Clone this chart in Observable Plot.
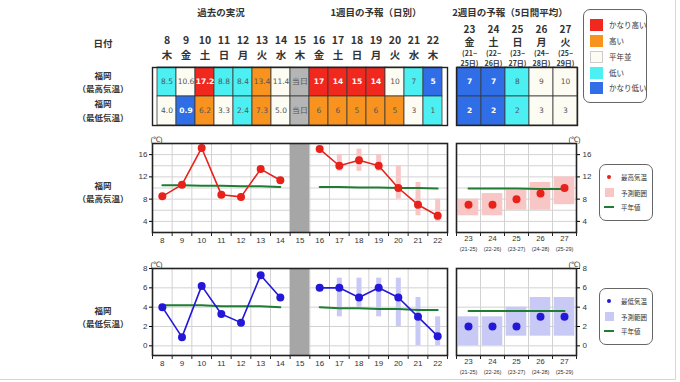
<!DOCTYPE html>
<html><head><meta charset="utf-8">
<script src="https://cdn.jsdelivr.net/npm/d3@7"></script>
<script src="https://cdn.jsdelivr.net/npm/@observablehq/plot@0.6"></script>
<style>
body{margin:0;background:#fff;font-family:'Noto Sans CJK JP',sans-serif;}
#root{position:relative;width:680px;height:382px;overflow:hidden;background:#fff;}
</style></head>
<body><div id="root"></div>
<script>
// ---------- data ----------
const days1 = [8,9,10,11,12,13,14,15,16,17,18,19,20,21,22];
const weekdays1 = ["木","金","土","日","月","火","水","木","金","土","日","月","火","水","木"];
const days2 = [23,24,25,26,27];
const weekdays2 = ["金","土","日","月","火"];
const wk2Start = [21,22,23,24,25];
const wk2End = [25,26,27,28,29];

const classLabels = ["かなり高い","高い","平年並","低い","かなり低い"];
const todayLabel = "当日";

const maxTable1 = ["8.5","10.6","17.2","8.8","8.4","13.4","11.4","当日","17","14","15","14","10","7","5"];
const maxClass1 = ["低い","平年並","かなり高い","低い","低い","高い","平年並","当日","かなり高い","かなり高い","かなり高い","かなり高い","平年並","低い","かなり低い"];
const minTable1 = ["4.0","0.9","6.2","3.3","2.4","7.3","5.0","当日","6","6","5","6","5","3","1"];
const minClass1 = ["平年並","かなり低い","高い","平年並","低い","高い","平年並","当日","高い","高い","高い","高い","高い","平年並","低い"];
const maxTable2 = ["7","7","8","9","10"];
const maxClass2 = ["かなり低い","かなり低い","低い","平年並","平年並"];
const minTable2 = ["2","2","2","3","3"];
const minClass2 = ["かなり低い","かなり低い","低い","平年並","平年並"];

const pastDays = [8,9,10,11,12,13,14];
const fcDays = [16,17,18,19,20,21,22];

const maxObs = [8.5,10.6,17.2,8.8,8.4,13.4,11.4];
const maxNormPast = [10.5,10.5,10.4,10.4,10.3,10.3,10.2];
const maxFc = [17,14,15,14,10,7,5];
const maxFcLo = [null,13,13,13,8,5,4];
const maxFcHi = [null,16,17,16,14,11,8];
const maxNormFc = [10.2,10.2,10.1,10.1,10.0,10.0,9.9];
const maxWk2 = [7,7,8,9,10];
const maxWk2Lo = [5,5,6,6,7];
const maxWk2Hi = [8,9,9.6,11,12];
const maxNormWk2 = [9.9,9.9,9.9,9.8,9.8];

const minObs = [4.0,0.9,6.2,3.3,2.4,7.3,5.0];
const minNormPast = [4.2,4.2,4.2,4.1,4.1,4.1,4.0];
const minFc = [6,6,5,6,5,3,1];
const minFcLo = [null,3,4,3,2,0,0];
const minFcHi = [null,7,7,7,7,5,3];
const minNormFc = [4.0,3.9,3.9,3.8,3.8,3.7,3.7];
const minWk2 = [2,2,2,3,3];
const minWk2Lo = [0,0,1,1,1];
const minWk2Hi = [3,3,4,5,5];
const minNormWk2 = [3.6,3.6,3.6,3.6,3.6];

const maxYTicks = [4,8,12,16];
const maxYGrid = [4,6,8,10,12,14,16];
const minYTicks = [0,2,4,6,8];
const minYGrid = [0,2,4,6];

// ---------- styling ----------
const classColors = ["#f0281e","#f7931e","#fdfcf2","#4cf0f2","#2f6ee6"];
const todayColor = "#b5b5b5";
const RED = "#e8211a", PINK = "#f9c6c6";
const BLUE = "#2418d8", LAV = "#c9c9f6";
const GREEN = "#1e7d32";
const GRID = "#d2d2d2";
const JP = "'Noto Sans CJK JP', sans-serif";
const NUM = "'Liberation Sans', Arial, sans-serif";

const root = document.getElementById("root");
function place(el, left, top) {
  el.style.position = "absolute"; el.style.left = left + "px"; el.style.top = top + "px";
  root.appendChild(el);
}
function addDiv(css, html = "") {
  const d = document.createElement("div");
  d.style.cssText = "position:absolute;" + css;
  d.innerHTML = html; root.appendChild(d); return d;
}
function addText(x, y, text, css = "", align = "center") {
  const tx = align === "center" ? "-50%" : align === "left" ? "0" : "-100%";
  addDiv(`left:${x}px;top:${y}px;transform:translate(${tx},-50%);white-space:nowrap;line-height:1;${css}`, text);
}

// page border
addDiv("left:0;top:0;width:676px;height:380px;border-right:1px solid #d6d6d6;border-bottom:1px solid #d6d6d6;box-sizing:border-box;");

// ---------- tables ----------
const strong = new Set(["かなり高い","かなり低い"]);
function cellsOf(days, maxV, maxC, minV, minC) {
  return days.flatMap((d, i) => [
    {day: d, row: "max", val: maxV[i], cls: maxC[i]},
    {day: d, row: "min", val: minV[i], cls: minC[i]}
  ]);
}
function tablePlot(cells, days, width, marginTop, headerMarks) {
  return Plot.plot({
    width: width + 4, height: marginTop + 58 + 2,
    marginTop, marginLeft: 2, marginRight: 2, marginBottom: 2,
    style: {background: "transparent", fontFamily: JP, overflow: "visible"},
    x: {type: "band", domain: days, padding: 0, axis: null},
    y: {type: "band", domain: ["max","min"], padding: 0, axis: null},
    color: {type: "ordinal", domain: [...classLabels, todayLabel], range: [...classColors, todayColor]},
    marks: [
      Plot.cell(cells, {x: "day", y: "row", fill: "cls", stroke: "#3a3a3a", strokeWidth: 0.8}),
      Plot.text(cells.filter(c => !strong.has(c.cls)), {x: "day", y: "row", text: "val", fill: "#555", fontSize: 7.5, fontFamily: "'DejaVu Sans', sans-serif"}),
      Plot.text(cells.filter(c => strong.has(c.cls)), {x: "day", y: "row", text: "val", fill: "white", fontWeight: "bold", fontSize: 7.5, fontFamily: "'DejaVu Sans', sans-serif"}),
      Plot.frame({stroke: "#222", strokeWidth: 1.4}),
      ...headerMarks
    ]
  });
}
const hdr = {fill: "#333", fontWeight: "bold"};
const t1 = tablePlot(cellsOf(days1, maxTable1, maxClass1, minTable1, minClass1), days1, 295, 42, [
  Plot.text(days1, {x: d => d, frameAnchor: "top", dy: -31, text: d => String(d), fontSize: 10.5, ...hdr}),
  Plot.text(days1, {x: d => d, frameAnchor: "top", dy: -16, text: (d, i) => weekdays1[i], fontSize: 10.5, ...hdr})
]);
place(t1, 150, 25);
const t2 = tablePlot(cellsOf(days2, maxTable2, maxClass2, minTable2, minClass2), days2, 121, 42, [
  Plot.text(days2, {x: d => d, frameAnchor: "top", dy: -42, text: d => String(d), fontSize: 10, ...hdr}),
  Plot.text(days2, {x: d => d, frameAnchor: "top", dy: -28.5, text: (d, i) => weekdays2[i], fontSize: 10, ...hdr}),
  Plot.text(days2, {x: d => d, frameAnchor: "top", dy: -16, text: (d, i) => `(${wk2Start[i]}~`, fontSize: 7, ...hdr}),
  Plot.text(days2, {x: d => d, frameAnchor: "top", dy: -6, text: (d, i) => `${wk2End[i]}日)`, fontSize: 7, ...hdr})
]);
place(t2, 454, 25);

// headers & row labels
const H = `font-size:9.5px;font-weight:bold;color:#333;font-family:${JP};`;
addText(221, 13, "過去の実況", H);
addText(376, 13, "1週目の予報（日別）", H);
addText(510, 13, "2週目の予報（5日間平均）", H);
addText(103, 44, "日付", H);
const R = `font-size:8.5px;font-weight:bold;color:#333;font-family:${JP};`;
addText(103, 75, "福岡", R); addText(103, 88, "（最高気温）", R);
addText(103, 103, "福岡", R); addText(103, 117, "（最低気温）", R);
addText(103, 185, "福岡", R); addText(103, 198, "（最高気温）", R);
addText(103, 310, "福岡", R); addText(103, 323, "（最低気温）", R);

// table legend
addDiv("left:583px;top:9px;width:64px;height:94px;border:1px solid #666;border-radius:7px;box-sizing:border-box;background:#fff;");
const legCy = [25, 41, 57, 72.5, 88];
classLabels.forEach((lab, i) => {
  addDiv(`left:590px;top:${legCy[i]-6}px;width:13px;height:12px;background:${classColors[i]};box-sizing:border-box;${i===2?"border:1px solid #ccc;":""}`);
  addText(609, legCy[i], lab, `font-size:7.5px;color:#333;font-family:${JP};`, "left");
});

// ---------- charts ----------
const bounds1 = days1.map(d => d - 0.5).concat([days1[days1.length-1] + 0.5]);
const bounds2 = days2.map(d => d - 0.5).concat([days2[days2.length-1] + 0.5]);
const rows = (days, ...cols) => days.map((d, i) => ({day: d, v: cols[0][i], lo: cols[1] ? cols[1][i] : null, hi: cols[2] ? cols[2][i] : null}));

function panel1({obs, normPast, fc, lo, hi, normFc, color, rangeColor, ydomain, yticks, ygrid, frameH}) {
  const past = rows(pastDays, obs), np = rows(pastDays, normPast);
  const f = rows(fcDays, fc, lo, hi), nf = rows(fcDays, normFc);
  return Plot.plot({
    width: 32 + 295 + 3, height: 13 + frameH + 22,
    marginLeft: 32, marginRight: 3, marginTop: 13, marginBottom: 22,
    style: {background: "transparent", fontFamily: NUM, overflow: "visible"},
    x: {domain: [days1[0] - 0.5, days1[days1.length-1] + 0.5], label: null},
    y: {domain: ydomain, label: null},
    marks: [
      Plot.gridY(ygrid, {stroke: GRID, strokeOpacity: 1}),
      Plot.gridX(bounds1.slice(1, -1), {stroke: GRID, strokeOpacity: 1}),
      Plot.rect([15], {x1: d => d - 0.5, x2: d => d + 0.5, fill: "#a6a6a6"}),
      Plot.ruleX(f.filter(d => d.lo != null), {x: "day", y1: "lo", y2: "hi", stroke: rangeColor, strokeWidth: 5}),
      Plot.line(np, {x: "day", y: "v", stroke: GREEN, strokeWidth: 2}),
      Plot.line(nf, {x: "day", y: "v", stroke: GREEN, strokeWidth: 2}),
      Plot.line(past, {x: "day", y: "v", stroke: color, strokeWidth: 1.6}),
      Plot.line(f, {x: "day", y: "v", stroke: color, strokeWidth: 1.6}),
      Plot.dot(past, {x: "day", y: "v", r: 4, fill: color}),
      Plot.dot(f, {x: "day", y: "v", r: 4, fill: color}),
      Plot.frame({stroke: "#222", strokeWidth: 1.6}),
      Plot.axisY(yticks, {anchor: "left", tickSize: 3, tickPadding: 2, fontSize: 8, fill: "#333"}),
      Plot.axisX(days1, {anchor: "bottom", tickSize: 0, tickPadding: 5, fontSize: 8, fill: "#333"}),
      Plot.axisX(bounds1, {anchor: "bottom", tickSize: 4, tickFormat: () => "", stroke: "#222"}),
      Plot.text(["(℃)"], {frameAnchor: "top-left", dy: -7, dx: -2, text: d => d, fontSize: 7.5, fill: "#333"})
    ]
  });
}
function panel2({v, lo, hi, norm, color, rangeColor, ydomain, yticks, ygrid, frameH}) {
  const w = rows(days2, v, lo, hi), n = rows(days2, norm);
  return Plot.plot({
    width: 16 + 120 + 26, height: 13 + frameH + 26,
    marginLeft: 16, marginRight: 26, marginTop: 13, marginBottom: 26,
    style: {background: "transparent", fontFamily: NUM, overflow: "visible"},
    x: {domain: [days2[0] - 0.5, days2[days2.length-1] + 0.5], label: null},
    y: {domain: ydomain, label: null},
    marks: [
      Plot.gridY(ygrid, {stroke: GRID, strokeOpacity: 1}),
      Plot.gridX(bounds2.slice(1, -1), {stroke: GRID, strokeOpacity: 1}),
      Plot.rect(w, {x1: d => d.day - 0.43, x2: d => d.day + 0.43, y1: "lo", y2: "hi", fill: rangeColor}),
      Plot.line(n, {x: "day", y: "v", stroke: GREEN, strokeWidth: 2}),
      Plot.dot(w, {x: "day", y: "v", r: 4, fill: color}),
      Plot.frame({stroke: "#222", strokeWidth: 1.6}),
      Plot.axisY(yticks, {anchor: "right", tickSize: 3, tickPadding: 3, fontSize: 8, fill: "#333"}),
      Plot.axisX(days2, {anchor: "bottom", tickSize: 0, tickPadding: 3.5, fontSize: 7.5, fill: "#333"}),
      Plot.axisX(bounds2, {anchor: "bottom", tickSize: 4, tickFormat: () => "", stroke: "#222"}),
      Plot.text(days2, {x: d => d, frameAnchor: "bottom", dy: 18, text: (d, i) => `(${wk2Start[i]}-${wk2End[i]})`, fontSize: 5.5, fill: "#333"}),
      Plot.text(["(℃)"], {frameAnchor: "top-right", dy: -7, dx: 4, text: d => d, fontSize: 7.5, fill: "#333"})
    ]
  });
}

place(panel1({obs: maxObs, normPast: maxNormPast, fc: maxFc, lo: maxFcLo, hi: maxFcHi, normFc: maxNormFc,
  color: RED, rangeColor: PINK, ydomain: [2, 18], yticks: maxYTicks, ygrid: maxYGrid, frameH: 89}), 120, 130);
place(panel2({v: maxWk2, lo: maxWk2Lo, hi: maxWk2Hi, norm: maxNormWk2,
  color: RED, rangeColor: PINK, ydomain: [2, 18], yticks: maxYTicks, ygrid: maxYGrid, frameH: 89}), 440, 130);
place(panel1({obs: minObs, normPast: minNormPast, fc: minFc, lo: minFcLo, hi: minFcHi, normFc: minNormFc,
  color: BLUE, rangeColor: LAV, ydomain: [-1, 8], yticks: minYTicks, ygrid: minYGrid, frameH: 87}), 120, 255);
place(panel2({v: minWk2, lo: minWk2Lo, hi: minWk2Hi, norm: minNormWk2,
  color: BLUE, rangeColor: LAV, ydomain: [-1, 8], yticks: minYTicks, ygrid: minYGrid, frameH: 87}), 440, 255);

// chart legends
function chartLegend(top, color, rangeColor, label) {
  addDiv(`left:599px;top:${top}px;width:54px;height:57px;border:1px solid #666;border-radius:7px;box-sizing:border-box;background:#fff;`);
  const T = `font-size:6.5px;color:#333;font-family:${JP};`;
  addDiv(`left:606.5px;top:${top+11}px;width:4px;height:4px;border-radius:50%;background:${color};`);
  addText(621, top + 13, label, T, "left");
  addDiv(`left:605px;top:${top+24}px;width:9px;height:9px;background:${rangeColor};`);
  addText(621, top + 28.5, "予測範囲", T, "left");
  addDiv(`left:604px;top:${top+41.5}px;width:10px;height:2.5px;background:${GREEN};`);
  addText(621, top + 43, "平年値", T, "left");
}
chartLegend(164, RED, PINK, "最高気温");
chartLegend(288, BLUE, LAV, "最低気温");
</script>
</body></html>
